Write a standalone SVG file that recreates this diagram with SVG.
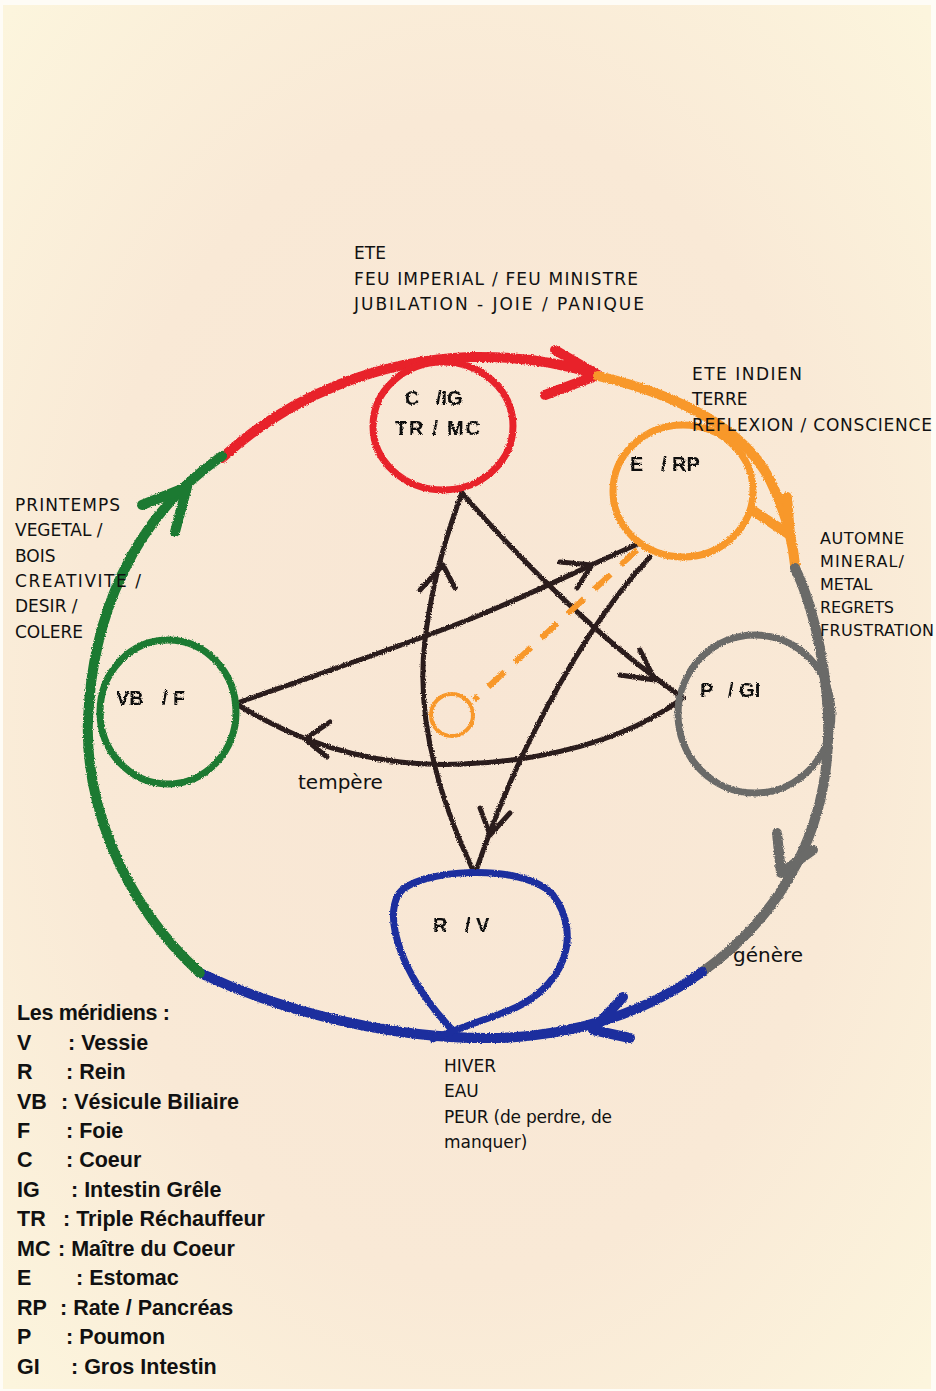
<svg xmlns="http://www.w3.org/2000/svg" width="936" height="1391" viewBox="0 0 936 1391">
<defs>
<radialGradient id="paper" cx="0.5" cy="0.5" r="0.7">
<stop offset="0" stop-color="#f8e6d4"/>
<stop offset="0.6" stop-color="#f9e9d6"/>
<stop offset="1" stop-color="#fcf5dd"/>
</radialGradient>
<filter id="crayon" x="-5%" y="-5%" width="110%" height="110%">
<feTurbulence type="fractalNoise" baseFrequency="0.9" numOctaves="2" seed="3" result="n"/>
<feDisplacementMap in="SourceGraphic" in2="n" scale="3" xChannelSelector="R" yChannelSelector="G"/>
</filter>
<style>
.ring{fill:none;stroke-width:10;stroke-linecap:round;stroke-linejoin:round}
.loop{fill:none;stroke-width:7}
.blk{fill:none;stroke:#2b1b1b;stroke-width:5;stroke-linecap:round;stroke-linejoin:round}
.red{stroke:#e8222c}.org{stroke:#f8982a}.gry{stroke:#6a6a68}.blu{stroke:#1b2f9e}.grn{stroke:#1f7a32}
.cap{font-family:"DejaVu Sans",sans-serif;font-size:17px;fill:#111}
.cap2{font-family:"DejaVu Sans",sans-serif;font-size:16px;fill:#111}
.lbl{font-family:"Liberation Sans",sans-serif;font-size:20px;font-weight:bold;fill:#111}
.leg{font-family:"Liberation Sans",sans-serif;font-size:21.5px;font-weight:bold;fill:#111}
.verb{font-family:"DejaVu Sans",sans-serif;font-size:20px;fill:#111}
</style>
</defs>
<rect width="936" height="1391" fill="#fefcf6"/>
<rect x="3" y="5" width="928" height="1384" fill="url(#paper)"/>

<g id="connectors" filter="url(#crayon)">
<path class="ring red" d="M 222,458 C 290,395 380,360 470,357 C 520,356 560,362 598,375"/>
<path class="ring red" d="M 555,350 L 598,375 L 545,395"/>
<path class="ring org" d="M 598,376 C 680,395 745,430 770,480 C 785,510 792,535 795,565"/>
<path class="ring org" d="M 752,510 L 790,535 L 787,497"/>
<path class="ring gry" d="M 795,568 C 815,610 830,680 828,740 C 826,820 790,910 702,972"/>
<path class="ring gry" d="M 777,833 L 781,873 L 813,850"/>
<path class="ring blu" d="M 702,972 C 650,1010 580,1035 500,1038 C 400,1040 290,1015 200,973"/>
<path class="ring blu" d="M 623,997 L 593,1030 L 630,1038"/>
<path class="ring grn" d="M 200,973 C 120,900 85,800 88,720 C 92,620 130,520 222,456"/>
<path class="ring grn" d="M 142,505 L 187,487 L 175,532"/>
<path class="blk" d="M 462,493 C 520,560 600,640 683,698"/>
<path class="blk" d="M 640,650 L 655,680 L 620,675"/>
<path class="blk" d="M 683,698 C 600,760 470,770 400,762 C 330,754 280,730 238,705"/>
<path class="blk" d="M 330,722 L 305,739 L 327,757"/>
<path class="blk" d="M 240,702 C 330,670 420,640 480,615 C 540,590 590,565 640,543"/>
<path class="blk" d="M 560,562 L 592,565 L 577,588"/>
<path class="blk" d="M 650,557 C 600,610 560,680 530,740 C 505,790 490,830 477,868"/>
<path class="blk" d="M 480,808 L 490,835 L 510,813"/>
<path class="blk" d="M 473,870 C 440,800 415,720 425,640 C 432,580 448,530 462,493"/>
<path class="blk" d="M 420,590 L 443,565 L 455,588"/>
<path d="M 637,550 L 474,700" fill="none" stroke="#f8982a" stroke-width="6" stroke-dasharray="22 14"/>
<circle cx="452" cy="715" r="21" fill="none" stroke="#f8982a" stroke-width="4"/>
</g>

<g id="node-feu" filter="url(#crayon)">
<ellipse class="loop red" cx="443" cy="426" rx="70" ry="64"/>
<text class="lbl" x="405" y="405">C<tspan x="436">/IG</tspan></text>
<text class="lbl" x="395" y="435" textLength="85">TR / MC</text>
</g>
<g id="node-terre" filter="url(#crayon)">
<ellipse class="loop org" cx="683" cy="491" rx="70" ry="66"/>
<text class="lbl" x="630" y="471">E<tspan x="661">/ RP</tspan></text>
</g>
<g id="node-metal" filter="url(#crayon)">
<ellipse class="loop gry" cx="755" cy="714" rx="77" ry="79"/>
<text class="lbl" x="700" y="697">P<tspan x="728">/ GI</tspan></text>
</g>
<g id="node-eau" filter="url(#crayon)">
<path class="loop blu" d="M 455,1033 C 400,975 385,920 398,895 C 415,868 525,862 553,895 C 583,935 565,990 505,1012 C 478,1022 455,1030 430,1040"/>
<text class="lbl" x="433" y="932">R<tspan x="465">/ V</tspan></text>
</g>
<g id="node-bois" filter="url(#crayon)">
<ellipse class="loop grn" cx="168" cy="712" rx="68" ry="72"/>
<text class="lbl" x="116" y="705">VB<tspan x="162">/ F</tspan></text>
</g>

<g id="labels">
<text class="cap" x="354" y="259">ETE</text>
<text class="cap" x="354" y="285" textLength="284">FEU IMPERIAL / FEU MINISTRE</text>
<text class="cap" x="354" y="310" textLength="290">JUBILATION - JOIE / PANIQUE</text>

<text class="cap" x="692" y="380" textLength="110">ETE INDIEN</text>
<text class="cap" x="692" y="405">TERRE</text>
<text class="cap" x="692" y="431" textLength="240">REFLEXION / CONSCIENCE</text>

<text class="cap2" x="820" y="544" textLength="84">AUTOMNE</text>
<text class="cap2" x="820" y="567" textLength="84">MINERAL/</text>
<text class="cap2" x="820" y="590">METAL</text>
<text class="cap2" x="820" y="613" textLength="74">REGRETS</text>
<text class="cap2" x="820" y="636" textLength="114">FRUSTRATION</text>

<text class="cap" x="15" y="511" textLength="105">PRINTEMPS</text>
<text class="cap" x="15" y="536">VEGETAL /</text>
<text class="cap" x="15" y="562">BOIS</text>
<text class="cap" x="15" y="587" textLength="126">CREATIVITE /</text>
<text class="cap" x="15" y="612">DESIR /</text>
<text class="cap" x="15" y="638">COLERE</text>

<text class="cap" x="444" y="1072">HIVER</text>
<text class="cap" x="444" y="1097">EAU</text>
<text class="cap" x="444" y="1123" textLength="168">PEUR (de perdre, de</text>
<text class="cap" x="444" y="1148">manquer)</text>

<text class="verb" x="298" y="789">tempère</text>
<text class="verb" x="733" y="962">génère</text>
</g>

<g id="legend">
<text class="leg" x="17" y="1020" textLength="153">Les méridiens :</text>
<text class="leg" x="17" y="1050">V<tspan x="68">: Vessie</tspan></text>
<text class="leg" x="17" y="1079">R<tspan x="66">: Rein</tspan></text>
<text class="leg" x="17" y="1109">VB<tspan x="61">: Vésicule Biliaire</tspan></text>
<text class="leg" x="17" y="1138">F<tspan x="66">: Foie</tspan></text>
<text class="leg" x="17" y="1167">C<tspan x="66">: Coeur</tspan></text>
<text class="leg" x="17" y="1197">IG<tspan x="71">: Intestin Grêle</tspan></text>
<text class="leg" x="17" y="1226">TR<tspan x="63">: Triple Réchauffeur</tspan></text>
<text class="leg" x="17" y="1256">MC<tspan x="58">: Maître du Coeur</tspan></text>
<text class="leg" x="17" y="1285">E<tspan x="76">: Estomac</tspan></text>
<text class="leg" x="17" y="1315">RP<tspan x="60">: Rate / Pancréas</tspan></text>
<text class="leg" x="17" y="1344">P<tspan x="66">: Poumon</tspan></text>
<text class="leg" x="17" y="1374">GI<tspan x="71">: Gros Intestin</tspan></text>
</g>
</svg>
